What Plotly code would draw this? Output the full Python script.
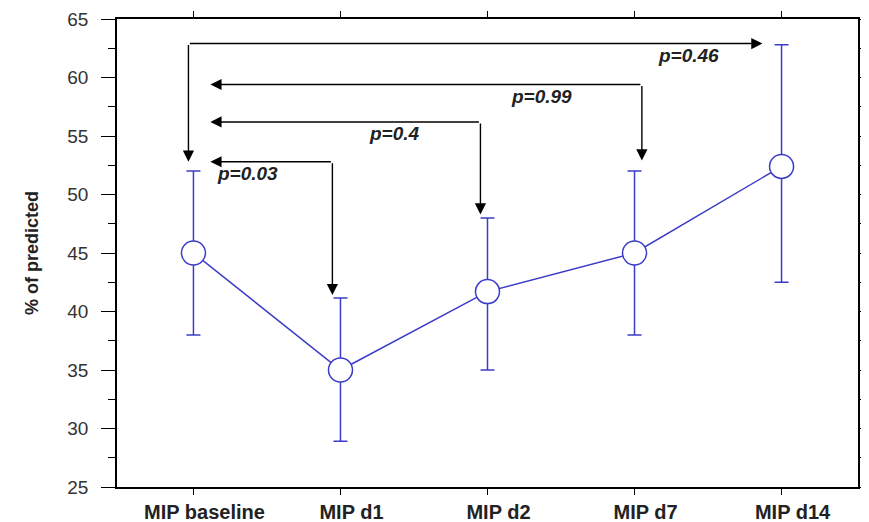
import plotly.graph_objects as go

# ---- data ----
categories = ["MIP baseline", "MIP d1", "MIP d2", "MIP d7", "MIP d14"]
mean_pct = [45.0, 35.0, 41.7, 45.0, 52.4]
err_upper = [52.0, 41.15, 48.0, 52.0, 62.8]
err_lower = [38.0, 28.9, 35.0, 38.0, 42.5]

# comparisons of each time point against baseline
cmp_target = [1, 2, 3, 4]
cmp_level = [52.8, 56.2, 59.4, 62.9]
cmp_p = ["p=0.03", "p=0.4", "p=0.99", "p=0.46"]
cmp_tip = [41.4, 48.3, 52.9, 52.8]

y_ticks = [25, 30, 35, 40, 45, 50, 55, 60, 65]

# ---- style ----
BLUE = "#3c3cc8"
FONT = "Liberation Sans, Arial, sans-serif"
corner_dx = [-0.055, -0.048, 0.05, -0.034]
left_tip_dx = 0.115
right_tip_dx = -0.13

x_idx = list(range(len(categories)))
plus = [u - m for u, m in zip(err_upper, mean_pct)]
minus = [m - l for m, l in zip(mean_pct, err_lower)]

fig = go.Figure()
fig.add_trace(go.Scatter(
    x=x_idx, y=mean_pct, mode="lines+markers",
    line=dict(color=BLUE, width=1.5),
    marker=dict(size=24, color="white", line=dict(color=BLUE, width=1.5)),
    error_y=dict(type="data", symmetric=False, array=plus, arrayminus=minus,
                 color=BLUE, thickness=1.5, width=7),
    showlegend=False,
))


def arrow(xt, yt, xh, yh):
    return dict(x=xh, y=yh, ax=xt, ay=yt, xref="x", yref="y", axref="x", ayref="y",
                text="", showarrow=True, arrowhead=2, arrowsize=1.6, arrowwidth=1.4,
                arrowcolor="black", standoff=0, startstandoff=0)


ann = []
for i, (t, lev, p, tip) in enumerate(zip(cmp_target, cmp_level, cmp_p, cmp_tip)):
    if t != 4:
        cx = x_idx[t] + corner_dx[i]
        ann.append(arrow(cx, lev, x_idx[0] + left_tip_dx, lev))
        ann.append(arrow(cx, lev, cx, tip))
    else:
        cx = x_idx[0] + corner_dx[i]
        ann.append(arrow(cx, lev, cx, tip))
        ann.append(arrow(cx, lev, x_idx[t] + right_tip_dx, lev))
    ann.append(dict(x=x_idx[t] - 0.63, y=lev - 1.0, xref="x", yref="y",
                    text="<b><i>" + p + "</i></b>", showarrow=False,
                    font=dict(family=FONT, size=19, color="#222")))

# the page body adds an 8px offset, so the figure is sized to fit the window
fig.update_layout(
    width=861, height=514,
    margin=dict(l=109, r=11, t=11, b=35, autoexpand=False),
    paper_bgcolor="white", plot_bgcolor="white",
    annotations=ann,
    xaxis=dict(
        range=[-0.52, 4.52], tickmode="array", tickvals=x_idx,
        ticktext=["<b>" + c + "</b>" for c in categories],
        tickfont=dict(family=FONT, size=20, color="#222"),
        ticks="outside", ticklen=6, tickcolor="black", tickwidth=1.2,
        ticklabelshift=11, automargin=False,
        showline=True, linecolor="black", linewidth=1.5, mirror="ticks",
        showgrid=False, zeroline=False,
    ),
    yaxis=dict(
        range=[25, 65], tickmode="array", tickvals=y_ticks,
        tickfont=dict(family=FONT, size=19, color="#333"),
        ticks="outside", ticklen=14, tickcolor="black", tickwidth=1.2,
        ticklabelstandoff=9, automargin=False,
        minor=dict(dtick=2.5, ticks="outside", ticklen=7, tickcolor="black", tickwidth=1.2),
        showline=True, linecolor="black", linewidth=1.5, mirror="ticks",
        showgrid=False, zeroline=False,
        title=dict(text="<b>% of predicted</b>", standoff=24,
                   font=dict(family=FONT, size=18, color="#222")),
    ),
)

fig.write_html("out.html")
